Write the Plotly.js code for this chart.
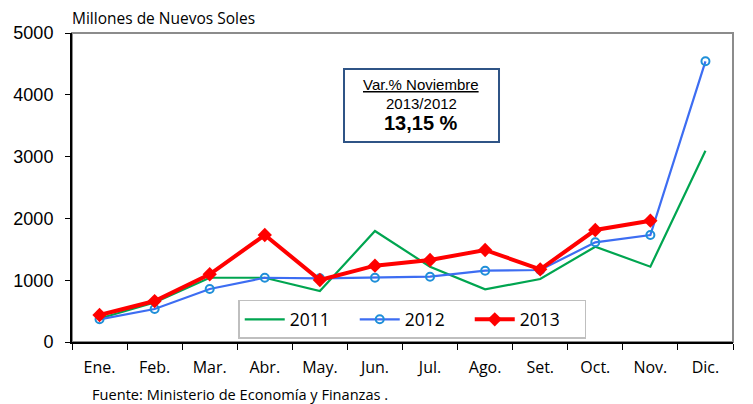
<!DOCTYPE html>
<html><head><meta charset="utf-8">
<script src="https://cdn.plot.ly/plotly-3.0.1.min.js"></script>
<style>body{margin:0;background:#fff}#chart{width:753px;height:404px}</style>
</head><body><div id="chart"></div>
<script>
const months = ["Ene.","Feb.","Mar.","Abr.","May.","Jun.","Jul.","Ago.","Set.","Oct.","Nov.","Dic."];
const v2011 = [380, 640, 1040, 1040, 825, 1796, 1219, 853, 1019, 1542, 1219, 3096];
const v2012 = [367, 534, 858, 1040, 1030, 1040, 1057, 1154, 1165, 1613, 1731, 4542];
const v2013 = [437, 663, 1096, 1731, 1003, 1235, 1327, 1489, 1176, 1812, 1963];
const yTicks = [0, 1000, 2000, 3000, 4000, 5000];

const sans = "Open Sans, sans-serif";
const arial = "Liberation Sans, Arial, sans-serif";

const traces = [
  {x: months, y: v2011, name: "2011", type: "scatter", mode: "lines",
   line: {color: "#00A550", width: 2.2}},
  {x: months, y: v2012, name: "2012", type: "scatter", mode: "lines+markers",
   line: {color: "#3D6DF2", width: 2.2},
   marker: {symbol: "circle-open", size: 8, color: "#1F8FD8", line: {width: 2, color: "#1F8FD8"}}},
  {x: months.slice(0, v2013.length), y: v2013, name: "2013", type: "scatter", mode: "lines+markers",
   line: {color: "#FF0000", width: 4},
   marker: {symbol: "diamond", size: 11, color: "#FF0000"}}
];

const layout = {
  width: 753, height: 404,
  margin: {l: 72, r: 20, t: 33, b: 62},
  paper_bgcolor: "#fff", plot_bgcolor: "#fff",
  showlegend: true,
  legend: {orientation: "h", x: 0.2515, y: 0.01, xanchor: "left", yanchor: "bottom",
    bgcolor: "#fff", bordercolor: "#BFBFBF", borderwidth: 1.5,
    font: {family: sans, size: 17.5, color: "#000"}, itemwidth: 40, traceorder: "normal",
    entrywidth: 60, entrywidthmode: "pixels"},
  xaxis: {type: "category", categoryorder: "array", categoryarray: months,
    range: [-0.5, 11.5], tickson: "boundaries", ticks: "outside", ticklen: 6, tickcolor: "#000", tickwidth: 1,
    showline: true, linecolor: "#000", linewidth: 2, showgrid: false, zeroline: false,
    ticklabelstandoff: 10,
    tickfont: {family: sans, size: 16, color: "#000"}},
  yaxis: {range: [0, 5000], tickvals: yTicks, ticktext: yTicks.map(String),
    ticks: "outside", ticklen: 5, tickcolor: "#000", showline: true, linecolor: "#000", linewidth: 2,
    showgrid: false, zeroline: false, ticklabelstandoff: 8,
    tickfont: {family: arial, size: 18, color: "#000"}},
  shapes: [
    {type: "rect", xref: "paper", yref: "paper", x0: 0, x1: 1, y0: 0, y1: 1,
     line: {color: "#8C8C8C", width: 2}, layer: "below"},
    {type: "rect", xref: "paper", yref: "paper", x0: 0.4115, x1: 0.646, y0: 0.647, y1: 0.8835,
     line: {color: "#2F5486", width: 2}, fillcolor: "#fff"}
  ],
  annotations: [
    {text: "Millones de Nuevos Soles", xref: "paper", yref: "paper", x: 0, y: 1, xanchor: "left", yanchor: "bottom",
     yshift: 2, xshift: -2, showarrow: false, font: {family: sans, size: 15.5, color: "#000"}},
    {text: "Fuente: Ministerio de Economía y Finanzas .", xref: "paper", yref: "paper", x: 0.027, y: 0,
     xanchor: "left", yanchor: "middle", yshift: -52, showarrow: false,
     font: {family: sans, size: 14.6, color: "#000"}},
    {text: "<u>Var.% Noviembre</u>", xref: "paper", yref: "paper", x: 0.5287, y: 0.834, xanchor: "center", yanchor: "middle",
     showarrow: false, font: {family: arial, size: 15, color: "#000"}},
    {text: "2013/2012", xref: "paper", yref: "paper", x: 0.5287, y: 0.773, xanchor: "center", yanchor: "middle",
     showarrow: false, font: {family: arial, size: 15, color: "#000"}},
    {text: "<b>13,15 %</b>", xref: "paper", yref: "paper", x: 0.5287, y: 0.708, xanchor: "center", yanchor: "middle",
     showarrow: false, font: {family: arial, size: 20, color: "#000"}}
  ]
};

Plotly.newPlot("chart", traces, layout, {displayModeBar: false, staticPlot: true});
</script></body></html>
